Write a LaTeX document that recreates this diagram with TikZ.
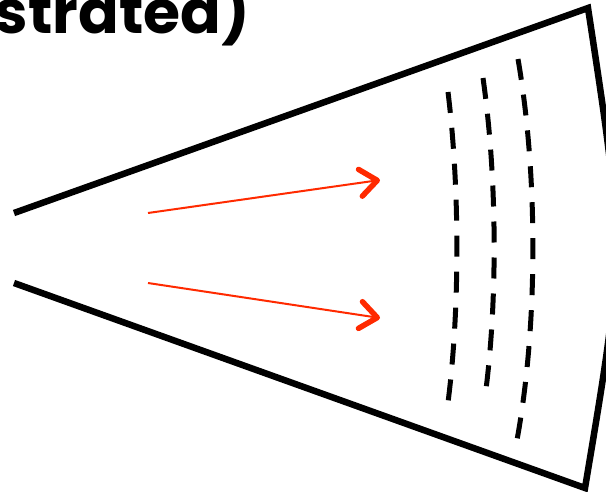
\documentclass[tikz,border=0pt]{standalone}
\usepackage{fontspec}
\usetikzlibrary{arrows.meta}
\newfontfamily\capfont{Poppins}
\definecolor{beam}{HTML}{FF2A00}
\definecolor{ink}{HTML}{000000}

\tikzset{
  horn/.style={draw=ink,line width=6.5pt,line join=miter},
  front/.style={draw=ink,line width=5pt,dash pattern=on 21pt off 15pt},
  ray/.style={draw=beam,line width=2pt,-{Straight Barb[length=17pt,width=27pt,line width=5.5pt,round]}}
}

\begin{document}
\begin{tikzpicture}[x=1pt,y=-1pt]
\useasboundingbox (0,0) rectangle (606,491);
\clip (0,0) rectangle (606,491);
% Caption, cut off at the top
\node[anchor=base east,inner sep=0pt,font=\capfont\bfseries\fontsize{60}{62}\selectfont] (cap) at (250,33) {(not illustrated)};
% Horn outline
\coordinate (mouthU) at (14,213);
\coordinate (mouthL) at (14,283);
\coordinate (rimU) at (588,8);
\coordinate (rimL) at (585,488);
\draw[horn] (mouthU) -- (rimU) .. controls (625,250) .. (rimL) -- (mouthL);
% Wave fronts
\foreach \xt/\yt/\xa/\ya/\xc/\yc/\xb/\yb in {448/92/460/190/460/315/447/410, 483/78/497/176/498/300/485/397, 518/59/538/175/538/325/517/440} {
  \draw[front] (\xt,\yt) .. controls (\xa,\ya) and (\xc,\yc) .. (\xb,\yb);
}
% Rays
\coordinate (rayA0) at (148,213);
\coordinate (rayA1) at (380,180);
\coordinate (rayB0) at (148,283);
\coordinate (rayB1) at (380,318);
\draw[ray] (rayA0) -- (rayA1);
\draw[ray] (rayB0) -- (rayB1);
\end{tikzpicture}
\end{document}
